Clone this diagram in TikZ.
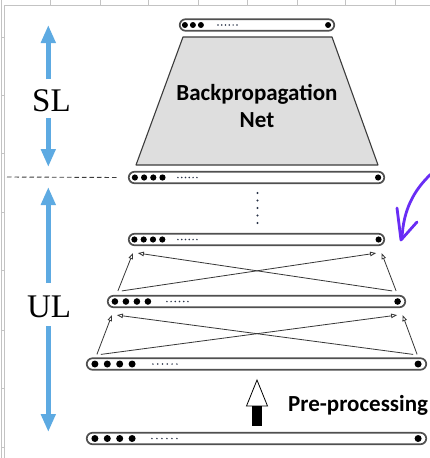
\documentclass[tikz,border=0pt]{standalone}
\usepackage{fontspec}
\setmainfont{Liberation Serif}
\newfontfamily\calibri{Carlito}
\usetikzlibrary{arrows.meta,calc}

\definecolor{skyarrow}{RGB}{93,170,226}
\definecolor{barline}{RGB}{80,80,80}
\definecolor{netfill}{RGB}{222,222,222}
\definecolor{netline}{RGB}{60,60,60}
\definecolor{penviolet}{RGB}{105,45,245}
\definecolor{gridgray}{RGB}{195,195,195}
\definecolor{dotink}{RGB}{40,50,70}
\definecolor{linkgray}{RGB}{55,55,55}

\tikzset{
  layerbar/.style={draw=barline, line width=1.7pt, fill=white, rounded corners=5.8pt,
                   minimum height=11.5pt, inner sep=0pt},
  sky/.style={draw=skyarrow, line width=5pt, -{Triangle[length=18pt,width=14pt]}},
  link/.style={draw=linkgray, line width=0.8pt, -{Triangle[open,length=6pt,width=4.5pt]}},
  gridline/.style={draw=gridgray, line width=0.7pt},
  bigtag/.style={font=\fontsize{33}{33}\selectfont, inner sep=0pt},
  boldtag/.style={font=\calibri\bfseries\fontsize{23}{27}\selectfont},
}

% big dots, then a run of six small dots, then the dot at the right end of a bar
% #1 bar, #2 number of big dots, #3 first offset, #4 spacing, #5 radius,
% #6 small-dot start offset, #7 small-dot end offset, #8 right-dot offset
\newcommand{\layerdots}[8]{%
  \foreach \k in {1,...,#2}{\fill[black] ($(#1.west)+({#3+(\k-1)*#4},0)$) circle (#5pt);}
  \foreach \k in {0,...,5}{\fill[dotink] ($(#1.west)+({#6+\k*(#7-#6)/5},0)$) circle (0.85pt);}
  \fill[black] ($(#1.east)+(-#8,0)$) circle (#5pt);
}

\begin{document}
\begin{tikzpicture}[x=1pt,y=-1pt]
\useasboundingbox (0,0) rectangle (430,458);
\fill[white] (0,0) rectangle (430,458);

% sheet gridlines along the top and left edges
\draw[gridline] (4.3,5.3) -- (430,5.3);
\draw[gridline] (4.3,5.3) -- (4.3,458);
\draw[gridline] (1.3,0) -- (1.3,458);
\foreach \gx in {50,100,148,198,247,297,345,395} \draw[gridline] (\gx,0) -- (\gx,5.3);
\foreach \gy in {37,95,153,212,270,330,388,447} \draw[gridline] (1.3,\gy) -- (4.3,\gy);

% backpropagation net
\filldraw[fill=netfill, draw=netline, line width=1.1pt, line join=round]
  (183,37) -- (332,37) -- (378,165) -- (136,165) -- cycle;
\node[boldtag, align=center] (bp) at (257,106) {Backpropagation\\Net};

% layers
\node[layerbar, minimum width=154.5pt] (b1) at (257,25) {};
\node[layerbar, minimum width=255.5pt] (b2) at (256.5,177.5) {};
\node[layerbar, minimum width=255.5pt] (b3) at (256.5,239.5) {};
\node[layerbar, minimum width=297.5pt] (b4) at (256.5,301.5) {};
\node[layerbar, minimum width=339.5pt] (b5) at (256.5,364) {};
\node[layerbar, minimum width=339.5pt] (b6) at (256.5,438.5) {};

\layerdots{b1}{3}{6}{8}{3}{39}{58}{7}
\layerdots{b2}{4}{7}{9.2}{3.1}{50}{69}{7}
\layerdots{b3}{4}{6.5}{9.3}{3.1}{50}{69}{6.5}
\layerdots{b4}{4}{8}{11}{3.3}{60}{81}{8.5}
\layerdots{b5}{4}{9}{12.4}{3.5}{67}{91}{9}
\layerdots{b6}{4}{9}{12.4}{3.5}{66}{91}{9}

% vertical ellipsis between the net input and the stacked layers
\foreach \k in {0,...,4} \fill[dotink] (257.5,{193+\k*7.5}) circle (1.1pt);

% connections between stacked layers
\foreach \lo/\up/\rise in {b5/b4/3, b4/b3/4} {
  \draw[link] ([xshift=11pt,yshift=\rise pt]\lo.north west) -- ([xshift=5pt,yshift=-7pt]\up.south west);
  \draw[link] ([xshift=15pt,yshift=\rise pt]\lo.north west) -- ([xshift=-9pt,yshift=-7pt]\up.south east);
  \draw[link] ([xshift=-14pt,yshift=\rise pt]\lo.north east) -- ([xshift=10pt,yshift=-7pt]\up.south west);
  \draw[link] ([xshift=-10pt,yshift=\rise pt]\lo.north east) -- ([xshift=-3.5pt,yshift=-7pt]\up.south east);
}

% boundary between supervised and unsupervised parts
\coordinate (cutL) at (7,177);
\draw[draw=netline, line width=0.9pt, dash pattern=on 4.5pt off 3pt] (cutL) -- ([xshift=-10pt]b2.west);

% SL / UL spans
\node[bigtag] (sl) at (51.5,101) {SL};
\node[bigtag] (ul) at (49,306.5) {UL};
\coordinate (slTop) at (48.3,25);
\coordinate (slBot) at (48.3,167);
\coordinate (ulTop) at (48.3,187);
\coordinate (ulBot) at (48.3,432);
\coordinate (slA) at (48.3,79);
\coordinate (slB) at (48.3,118);
\coordinate (ulA) at (48.3,283);
\coordinate (ulB) at (48.3,326);
\draw[sky] (slA) -- (slTop);
\draw[sky] (slB) -- (slBot);
\draw[sky] (ulA) -- (ulTop);
\draw[sky] (ulB) -- (ulBot);

% pre-processing step
\filldraw[fill=white, draw=black, line width=0.8pt, line join=miter] (257,380) -- (267.5,406) -- (246.5,406) -- cycle;
\fill[black] (252.3,406) rectangle (261.7,426);
\node[boldtag, anchor=base west, inner sep=0pt] (pre) at (288,411) {Pre-processing};

% hand-drawn pointer
\draw[draw=penviolet, line width=2.8pt, line cap=round, line join=round]
  (431,174) .. controls (414,190) and (403,210) .. (402,239);
\draw[draw=penviolet, line width=2.8pt, line cap=round, line join=round]
  (397,208) -- (401,240) -- (417,222);
\end{tikzpicture}
\end{document}
